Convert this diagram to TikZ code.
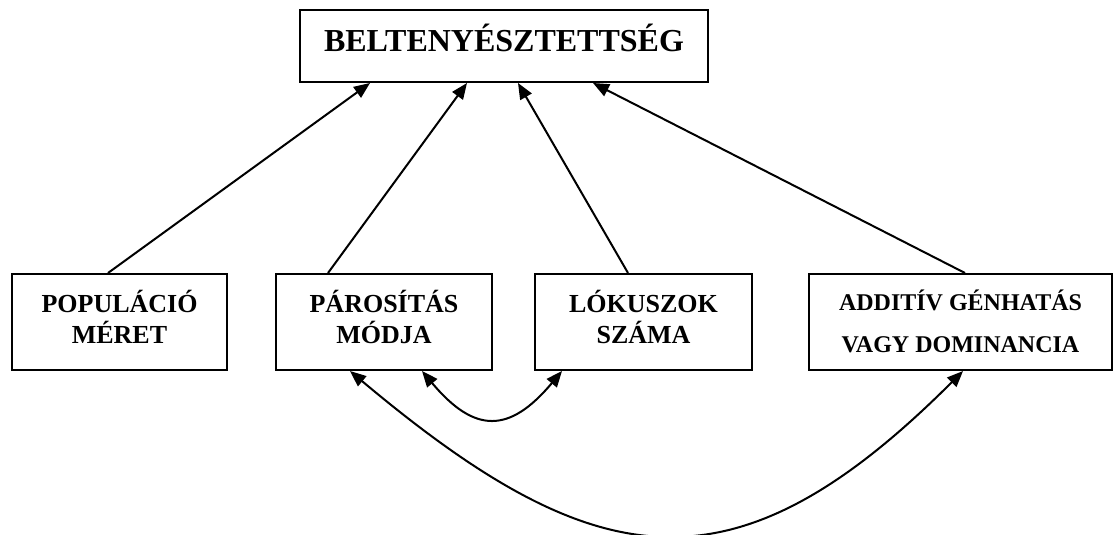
\documentclass[tikz,border=0pt]{standalone}
\usepackage{fontspec}
\setmainfont{Liberation Serif}
\usetikzlibrary{arrows.meta}

\begin{document}
\begin{tikzpicture}[x=0.5pt,y=0.5pt,
	box/.style={draw,rectangle,line width=1pt,minimum height=48pt,align=center,text depth=5pt,
		font=\bfseries\fontsize{13}{15.5}\selectfont},
	arr/.style={line width=1pt,-{Triangle[length=8pt,width=6.5pt]}},
	darr/.style={line width=1pt,{Triangle[length=8pt,width=6.5pt]}-{Triangle[length=8pt,width=6.5pt]}}]
	\useasboundingbox (0,0) rectangle (1114,-535);
	\node [box, minimum width=204pt, minimum height=36pt, text height=10.6pt, text depth=4.6pt,
		font=\bfseries\fontsize{16}{19}\selectfont] (belt) at (504,-46) {BELTENYÉSZTETTSÉG};
	\node [box, minimum width=107.5pt] (pop) at (119.5,-322) {POPULÁCIÓ\\MÉRET};
	\node [box, minimum width=108pt] (par) at (384,-322) {PÁROSÍTÁS\\MÓDJA};
	\node [box, minimum width=108.5pt] (lok) at (643.5,-322) {LÓKUSZOK\\SZÁMA};
	\node [box, minimum width=151.5pt, text depth=1pt, font=\bfseries\fontsize{12}{21}\selectfont] (add) at (960.5,-322)
		{ADDITÍV GÉNHATÁS\\VAGY DOMINANCIA};
	\draw [arr] ([xshift=-5.75pt]pop.north) -- ([xshift=-67pt]belt.south);
	\draw [arr] ([xshift=-28pt]par.north) -- ([xshift=-18.5pt]belt.south);
	\draw [arr] ([xshift=-7.75pt]lok.north) -- ([xshift=7pt]belt.south);
	\draw [arr] ([xshift=2.25pt]add.north) -- ([xshift=44.5pt]belt.south);
	\draw [darr] ([xshift=19pt]par.south) to [out=-50, in=-130, looseness=1.5] ([xshift=-40.75pt]lok.south);
	\draw [darr] ([xshift=-17pt]par.south) to [out=-40, in=-135, looseness=1.35] ([xshift=1.25pt]add.south);
\end{tikzpicture}
\end{document}
